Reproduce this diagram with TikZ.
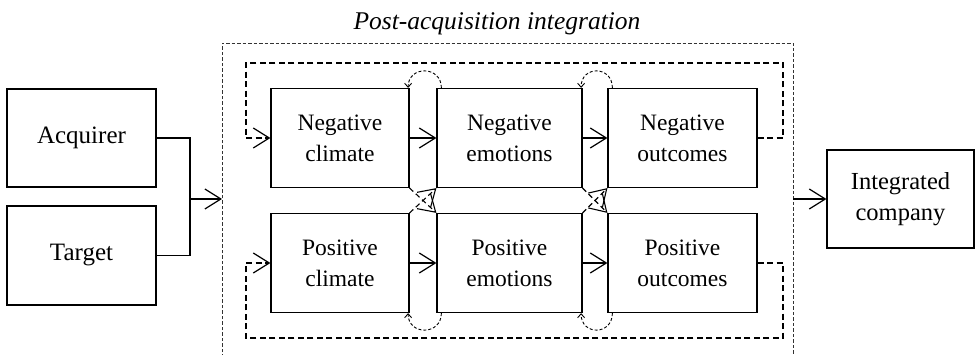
\documentclass[tikz,border=0pt]{standalone}
\usepackage{fontspec}
\setmainfont{Liberation Serif}
\usetikzlibrary{arrows.meta}

\begin{document}
\begin{tikzpicture}[x=1pt,y=-1pt,
  box/.style={draw, line width=1.2pt, inner sep=0pt, align=center,
    minimum height=99pt, font=\fontsize{23.5}{31}\selectfont},
  bigbox/.style={box, font=\fontsize{25}{31}\selectfont},
  barb/.style={-{Straight Barb[length=16pt,width=20pt]}},
  flow/.style={line width=1.2pt, barb},
  loopline/.style={line width=1.2pt, dash pattern=on 6pt off 3.5pt, barb},
  crossline/.style={line width=1.1pt, dash pattern=on 5pt off 3.5pt, barb},
  turn/.style={line width=0.9pt, dash pattern=on 3pt off 2pt,
    -{Straight Barb[length=4pt,width=7pt]}},
  frame/.style={line width=0.9pt, draw=black!80, dash pattern=on 3.5pt off 2pt},
]
\useasboundingbox (0,0) rectangle (975,355);

% title of the integration stage
\node[font=\fontsize{25.5}{30}\selectfont\itshape, anchor=base] (title) at (497,30)
  {Post-acquisition integration};

% dashed frame of the integration stage (runs past the lower edge)
\draw[frame] (222,358) -- (222,43) -- (793,43) -- (793,358);
\coordinate (fin) at (222,199);
\coordinate (fout) at (793,199);

% the two companies
\node[bigbox, minimum width=149pt, minimum height=98pt] (acq) at (81.5,138) {Acquirer};
\node[bigbox, minimum width=149pt] (tgt) at (81.5,255.5) {Target};
\coordinate (mj) at (190,199);
\draw[line width=1.2pt] (acq.east) -| (mj);
\draw[line width=1.2pt] (tgt.east) -| (mj);
\draw[flow] (mj) -- (fin);

% negative path
\node[box, minimum width=138pt] (nc) at (340,138) {Negative\\climate};
\node[box, minimum width=145pt] (ne) at (509.5,138) {Negative\\emotions};
\node[box, minimum width=149pt] (no) at (682.5,138) {Negative\\outcomes};

% positive path
\node[box, minimum width=138pt] (pc) at (340,263) {Positive\\climate};
\node[box, minimum width=145pt] (pe) at (509.5,263) {Positive\\emotions};
\node[box, minimum width=149pt] (po) at (682.5,263) {Positive\\outcomes};

% result
\node[bigbox, minimum width=147pt, minimum height=98pt,
  font=\fontsize{24.5}{31}\selectfont] (ic) at (900.5,199) {Integrated\\company};
\draw[flow] (fout) -- (ic.west);

% forward links
\draw[flow] (nc) -- (ne);
\draw[flow] (ne) -- (no);
\draw[flow] (pc) -- (pe);
\draw[flow] (pe) -- (po);

% cross-over links between the two paths
\draw[crossline] (nc.south east) -- (pe.north west);
\draw[crossline] (pc.north east) -- (ne.south west);
\draw[crossline] (ne.south east) -- (po.north west);
\draw[crossline] (pe.north east) -- (no.south west);

% feedback loops from outcomes back to climate
\coordinate (tr) at (783,63);
\coordinate (tl) at (246,63);
\coordinate (br) at (783,338);
\coordinate (bl) at (246,338);
\draw[loopline] (no.east) -| (tr) -- (tl) |- (nc.west);
\draw[loopline] (po.east) -| (br) -- (bl) |- (pc.west);

% small backward turns
\draw[turn] ([xshift=5pt]ne.north west) .. controls +(0,-22.5) and +(0,-22.5) .. ([xshift=-1.5pt]nc.north east);
\draw[turn] ([xshift=5pt]no.north west) .. controls +(0,-22.5) and +(0,-22.5) .. ([xshift=-1.5pt]ne.north east);
\draw[turn] ([xshift=5pt]pe.south west) .. controls +(0,22.5) and +(0,22.5) .. ([xshift=-1.5pt]pc.south east);
\draw[turn] ([xshift=5pt]po.south west) .. controls +(0,22.5) and +(0,22.5) .. ([xshift=-1.5pt]pe.south east);
\end{tikzpicture}
\end{document}
